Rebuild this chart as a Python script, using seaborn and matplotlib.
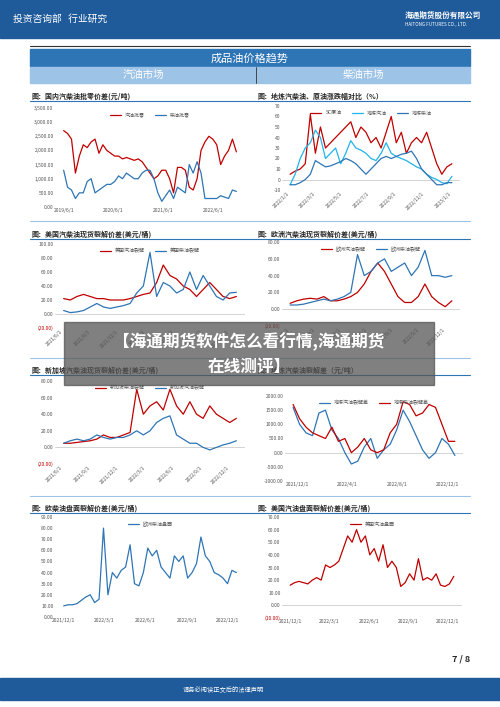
import pandas as pd
import seaborn as sns
import matplotlib.pyplot as plt
from matplotlib.patches import Rectangle

sns.set_style("white")
plt.rcParams['font.family'] = ['Noto Sans CJK SC', 'DejaVu Sans']

RED = "#c00000"
BLUE = "#2e75b6"
CYAN = "#1fb4e8"

# ---- data ----
pf_gas = [2700, 2600, 2400, 1200, 1800, 2200, 2100, 2300, 2400, 1900, 2200, 2000, 1900, 1800, 1800,
          1700, 1750, 1700, 1650, 1700, 1600, 1400, 1200, 1000, 1100, 1300, 1300, 1000, 500, 1400,
          1400, 1300, 700, 600, 1000, 2000, 2300, 2500, 2400, 2200, 1500, 1800, 2000, 2400, 1950]
pf_dsl = [1300, 700, 600, 300, 500, 500, 900, 1000, 500, 600, 700, 800, 800, 900, 1100,
          1000, 1200, 1100, 1000, 1000, 1200, 1300, 1300, 1000, 500, 200, 400, 600, 300, 700,
          600, 500, 1500, 1200, 1600, 1200, 300, 300, 300, 300, 400, 350, 300, 600, 550]

chg_sc = [5, 8, 10, 15, 62, 25, 50, 30, 35, 40, 45, 50, 55, 40, 50, 45,
          35, 40, 30, 45, 60, 35, 45, 25, 35, 40, 35, 45, 30, 15, 5, 12, 15]
chg_gas = [-5, 5, 20, 30, 35, 47, 40, 20, 25, 30, 15, 25, 37, 30, 28, 25,
           20, 18, 25, 35, 25, 22, 20, 18, 15, 12, 10, 5, 2, 0, -3, -4, 3]
chg_dsl = [-5, -5, -3, 0, 5, 18, 15, 12, 13, 15, 17, 20, 18, 15, 10, 5,
           10, 15, 20, 22, 20, 22, 24, 25, 27, 20, 10, 5, 0, -5, -5, -3, -3]

us_gas = [22, 20, 25, 28, 25, 22, 22, 20, 20, 20, 22, 25, 28, 30, 45,
          70, 55, 50, 40, 35, 25, 35, 45, 35, 25, 22, 25]
us_dsl = [5, 2, 3, 5, 10, 15, 10, 8, 10, 12, 15, 30, 40, 88, 25,
          45, 40, 30, 35, 60, 35, 55, 40, 25, 20, 30, 31]

eu_gas = [7, 10, 12, 13, 12, 15, 10, 10, 12, 15, 20, 30, 45, 55, 45,
          30, 15, 8, 8, 15, 30, 15, 8, 3, 10]
eu_dsl = [5, 5, 6, 8, 10, 12, 10, 12, 15, 20, 65, 40, 45, 55, 60,
          45, 50, 55, 40, 50, 70, 40, 40, 38, 40]

sg_dsl = [5, 5, 6, 7, 8, 10, 15, 12, 12, 15, 18, 70, 40, 50, 55, 45,
          70, 50, 40, 55, 40, 35, 50, 40, 35, 30, 35]
sg_gas = [5, 8, 10, 8, 10, 15, 12, 10, 12, 12, 15, 20, 15, 20, 30, 35,
          38, 15, 10, 5, 5, 0, -3, 0, 3, 5, 8]

lr_gas = [1600, 1000, 700, 600, 1400, 1500, 800, 500, 0, -400, -300, 200, 500,
          -200, 100, 300, 800, 1500, 1100, 600, 100, -200, 0, 500, 300, -100]
lr_dsl = [1700, 1200, 900, 700, 600, 500, 900, 400, 500, 0, 200, 500, 100,
          0, 100, 700, 1000, 1800, 1700, 1300, 1400, 1700, 1600, 1000, 400, 400]

eu_board = [10, 11, 11, 12, 15, 18, 20, 13, 16, 80, 20, 40, 35, 42, 45, 65, 30, 28, 40, 62,
            55, 60, 45, 40, 35, 55, 50, 55, 35, 40, 48, 72, 55, 50, 40, 38, 35, 30, 42, 40]
us_board = [16, 18, 19, 18, 17, 20, 22, 20, 32, 30, 32, 35, 45, 55, 50, 60, 50, 55, 40,
            45, 35, 48, 30, 35, 30, 15, 18, 25, 20, 37, 20, 22, 20, 25, 16, 15, 17, 23]

fig = plt.figure(figsize=(5, 7.07), dpi=100)
W, H = 500, 707


def box(x0, y0, x1, y1):
    return [x0 / W, 1 - y1 / H, (x1 - x0) / W, (y1 - y0) / H]


bg = fig.add_axes([0, 0, 1, 1])
bg.set_xlim(0, W)
bg.set_ylim(H, 0)
bg.axis("off")
bg.add_patch(Rectangle((0, 0), W, 38, color="#1f5b9b"))
bg.text(13, 19, "投资咨询部   行业研究", color="white", fontsize=7, va="center")
bg.text(405, 15, "海通期货股份有限公司", color="white", fontsize=5.5, va="center", fontweight="bold")
bg.text(405, 24, "HAITONG FUTURES CO., LTD.", color="white", fontsize=3.3, va="center")
bg.plot([30, 470], [46, 46], color="#333333", lw=0.8)
bg.add_patch(Rectangle((30, 49), 440, 17, color="#2e75b6"))
bg.text(250, 58, "成品油价格趋势", color="white", fontsize=8, ha="center", va="center")
bg.add_patch(Rectangle((30, 67), 440, 16, color="#9dc3e6"))
bg.plot([256, 256], [67, 83], color="#333333", lw=0.6)
bg.text(143, 75, "汽油市场", color="white", fontsize=7.5, ha="center", va="center")
bg.text(363, 75, "柴油市场", color="white", fontsize=7.5, ha="center", va="center")

titles = [(96, "图：国内汽柴油批零价差(元/吨)", "图：地炼汽柴油、原油涨跌幅对比（%）"),
          (234, "图：美国汽柴油现货裂解价差(美元/桶)", "图：欧洲汽柴油现货裂解价差(美元/桶)"),
          (370, "图：新加坡汽柴油现货裂解价差(美元/桶)", "图：地炼汽柴油裂解差（元/吨）"),
          (508, "图：欧柴油盘面裂解价差(美元/桶)", "图：美国汽油盘面裂解价差(美元/桶)")]
for y, lt, rt in titles:
    bg.text(32, y, lt, fontsize=5, fontweight="bold", va="center")
    bg.text(258, y, rt, fontsize=5, fontweight="bold", va="center")
    bg.plot([30, 470], [y + 5, y + 5], color=BLUE, lw=0.8)
for y in [221, 358, 496]:
    bg.plot([30, 470], [y, y], color="#9dc3e6", lw=0.8)

bg.text(470, 659, "7 / 8", fontsize=6.5, fontweight="bold", ha="right", va="center")
bg.add_patch(Rectangle((0, 678), W, 22, color="#1f5b9b"))
bg.text(183, 690, "请务必阅读正文后的法律声明", color="white", fontsize=4.5, va="center")


def fmt_money(v, dec=2, comma=False, paren=True):
    s = f"{abs(v):,.{dec}f}" if comma else f"{abs(v):.{dec}f}"
    if v < 0:
        return f"({s})" if paren else "-" + s
    return s


def panel(rect, start, end, series, yticks, xticks, rot=45, comma=False, dec=2, paren=True):
    ax = fig.add_axes(box(*rect))
    for name, vals, col in series:
        d = pd.DataFrame({"date": pd.date_range(start, end, periods=len(vals)), "v": vals})
        sns.lineplot(data=d, x="date", y="v", ax=ax, color=col, lw=0.9, label=name)
    ax.set_ylim(yticks[0], yticks[-1])
    ax.set_yticks(yticks)
    labs = [fmt_money(v, dec, comma, paren) for v in yticks]
    ax.set_yticklabels(labs)
    for t, v in zip(ax.get_yticklabels(), yticks):
        if v < 0 and paren:
            t.set_color(RED)
    ax.set_xticks(pd.to_datetime(xticks))
    ax.set_xticklabels(xticks)
    ax.tick_params(axis="both", labelsize=3.6, labelcolor="#555555", length=0, pad=1)
    for t in ax.get_yticklabels():
        t.set_fontsize(3.6)
    for t in ax.get_xticklabels():
        t.set_fontsize(3.6)
        t.set_rotation(rot)
        t.set_ha("right" if rot else "center")
    for t, v in zip(ax.get_yticklabels(), yticks):
        if v < 0 and paren:
            t.set_color(RED)
    ax.set_xlabel("")
    ax.set_ylabel("")
    for s in ["top", "right", "left", "bottom"]:
        ax.spines[s].set_visible(False)
    ax.axhline(0, color="#cccccc", lw=0.6, zorder=0)
    ax.legend(loc="upper center", ncol=3, frameon=False, fontsize=3.6, handlelength=2.2,
              bbox_to_anchor=(0.5, 1.0), labelcolor="#555555")
    return ax


panel((55, 108, 245, 207), "2019-06-01", "2022-11-20",
      [("汽油批零", pf_gas, RED), ("柴油批零", pf_dsl, BLUE)],
      [0, 500, 1000, 1500, 2000, 2500, 3000, 3500],
      ["2019/6/1", "2020/6/1", "2021/6/1", "2022/6/1"], rot=0, comma=True)
panel((282, 106, 460, 190), "2022-01-01", "2023-01-01",
      [("SC原油", chg_sc, RED), ("地炼汽油", chg_gas, CYAN), ("地炼柴油", chg_dsl, BLUE)],
      [-10, 0, 10, 20, 30, 40, 50, 60, 70],
      ["2022/1/1", "2022/3/1", "2022/5/1", "2022/7/1", "2022/9/1", "2022/11/1", "2023/1/1"],
      dec=0, paren=False)
panel((55, 244, 245, 328), "2021-06-01", "2022-12-20",
      [("美国汽油裂解", us_gas, RED), ("美国柴油裂解", us_dsl, BLUE)],
      [-20, 0, 20, 40, 60, 80, 100],
      ["2021/6/1", "2021/9/1", "2021/12/1", "2022/3/1", "2022/6/1", "2022/9/1", "2022/12/1"])
panel((282, 242, 460, 326), "2021-06-01", "2022-12-20",
      [("欧洲汽油裂解", eu_gas, RED), ("欧洲柴油裂解", eu_dsl, BLUE)],
      [-20, 0, 20, 40, 60, 80],
      ["2021/6/1", "2021/9/1", "2021/12/1", "2022/3/1", "2022/6/1", "2022/9/1", "2022/12/1"])
panel((55, 381, 245, 464), "2021-06-01", "2022-12-20",
      [("新加坡柴油裂解", sg_dsl, RED), ("新加坡汽油裂解", sg_gas, BLUE)],
      [-20, 0, 20, 40, 60, 80],
      ["2021/6/1", "2021/9/1", "2021/12/1", "2022/3/1", "2022/6/1", "2022/9/1", "2022/12/1"])
panel((285, 396, 463, 481), "2021-11-20", "2022-12-20",
      [("地炼汽油裂解差", lr_gas, BLUE), ("地炼柴油裂解差", lr_dsl, RED)],
      [-1000, -500, 0, 500, 1000, 1500, 2000],
      ["2021/12/1", "2022/4/1", "2022/8/1", "2022/12/1"], rot=0, paren=False)
panel((55, 517, 245, 617), "2021-12-01", "2022-12-20",
      [("欧洲柴油盘面", eu_board, BLUE)],
      [0, 10, 20, 30, 40, 50, 60, 70, 80, 90],
      ["2021/12/1", "2022/3/1", "2022/6/1", "2022/9/1", "2022/12/1"], rot=0)
panel((282, 517, 462, 618), "2021-12-01", "2022-12-15",
      [("美国汽油盘面", us_board, RED)],
      [-10, 0, 10, 20, 30, 40, 50, 60, 70],
      ["2021/12/1", "2022/3/1", "2022/6/1", "2022/9/1", "2022/12/1"], rot=0)

ov = fig.add_axes([0, 0, 1, 1])
ov.set_xlim(0, W)
ov.set_ylim(H, 0)
ov.axis("off")
ov.add_patch(Rectangle((64, 322), 370, 63, color="#555555", alpha=0.75))
ov.text(249, 342, "【海通期货软件怎么看行情,海通期货", color="white", fontsize=12,
        fontweight="bold", ha="center", va="center")
ov.text(249, 367, "在线测评】", color="white", fontsize=12, fontweight="bold",
        ha="center", va="center")

fig.savefig("out.png", dpi=100)
